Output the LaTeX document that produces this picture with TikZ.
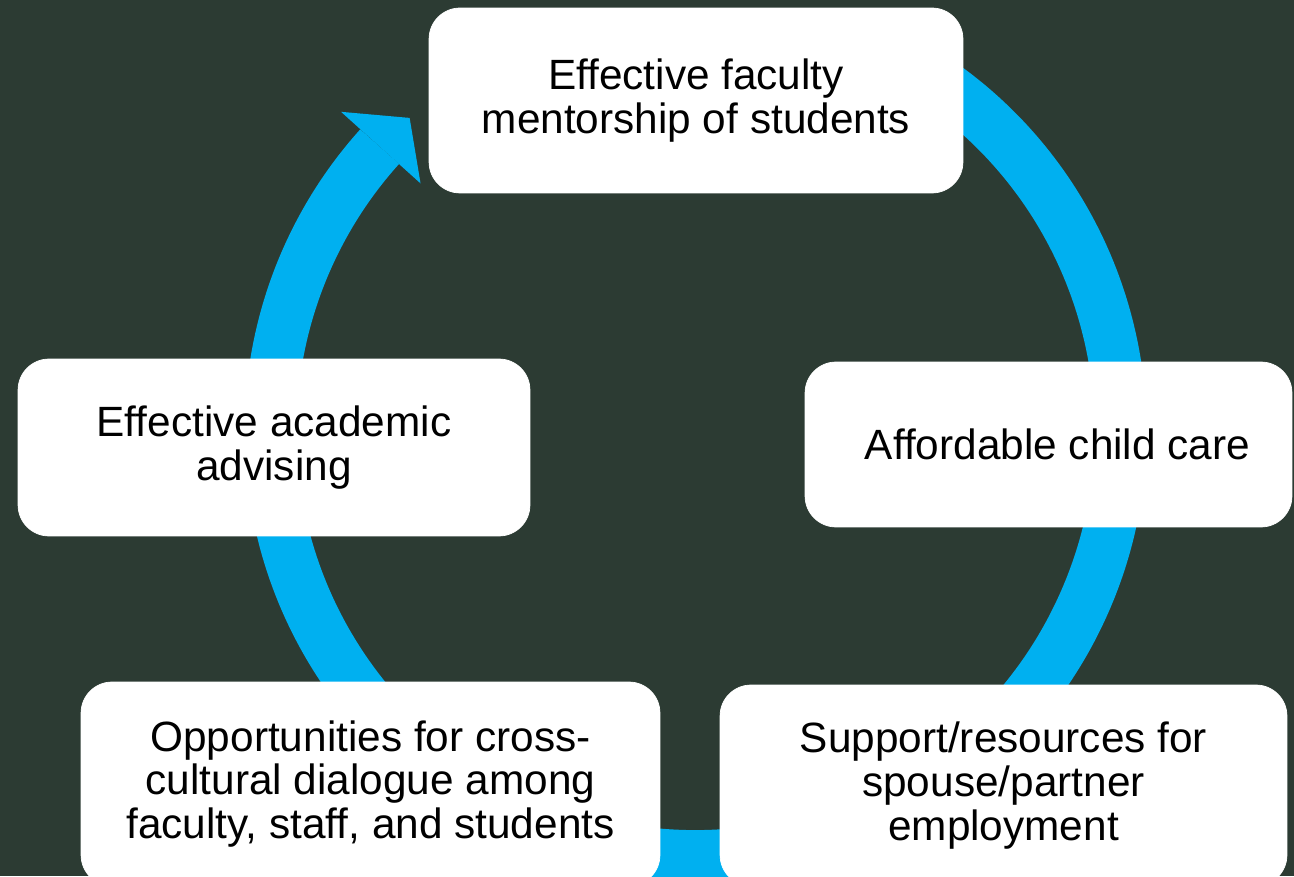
\documentclass[tikz,border=0pt]{standalone}
\usepackage{fontspec}
\setmainfont{Liberation Sans}
\usetikzlibrary{calc}
\definecolor{bgdark}{HTML}{2C3B33}
\definecolor{ringblue}{HTML}{00B0F0}

\begin{document}
\begin{tikzpicture}[x=0.02cm,y=0.02cm,
  stage/.style={fill=white, draw=white, rounded corners=0.62cm, align=center,
    inner sep=0pt, font=\fontsize{24.1}{25}\selectfont}]

% ---------- Parameter (Ring) ----------
\def\rmid{425}
\def\rwidth{1.04cm}

% Seite festlegen
\path[use as bounding box] (0,0) rectangle (1294,876);
\clip (0,0) rectangle (1294,876);
\fill[bgdark] (0,0) rectangle (1294,876);

\coordinate (c) at (695.5,445);

% ===================
% Ring mit Pfeilspitze
% ===================
\draw[ringblue, line width=\rwidth]
  ($(c)+(65:\rmid)$) arc[start angle=65, end angle=-222, radius=\rmid];
\fill[ringblue] ($(c)+(138:477)$) -- ($(c)+(132.4:424)$) -- ($(c)+(138:370)$) -- cycle;

% ===================
% Kästen
% ===================
\node[stage, minimum width=10.68cm, minimum height=3.7cm] (mentor) at (696,775.5)
  {Effective faculty\\mentorship of students};
\node[stage, minimum width=9.74cm, minimum height=3.3cm] (childcare) at (1048.5,431.5)
  {\hspace*{0.36cm}Affordable child care};
\node[stage, minimum width=10.24cm, minimum height=3.54cm] (advising) at (274,428.5)
  {Effective academic\\advising};
\node[stage, minimum width=11.58cm, minimum height=4.08cm] (dialogue) at (370.5,92)
  {Opportunities for cross-\\cultural dialogue among\\faculty, staff, and students};
\node[stage, minimum width=11.34cm, minimum height=4.02cm] (spouse) at (1003.5,90.5)
  {Support/resources for\\spouse/partner\\employment};

\end{tikzpicture}
\end{document}
